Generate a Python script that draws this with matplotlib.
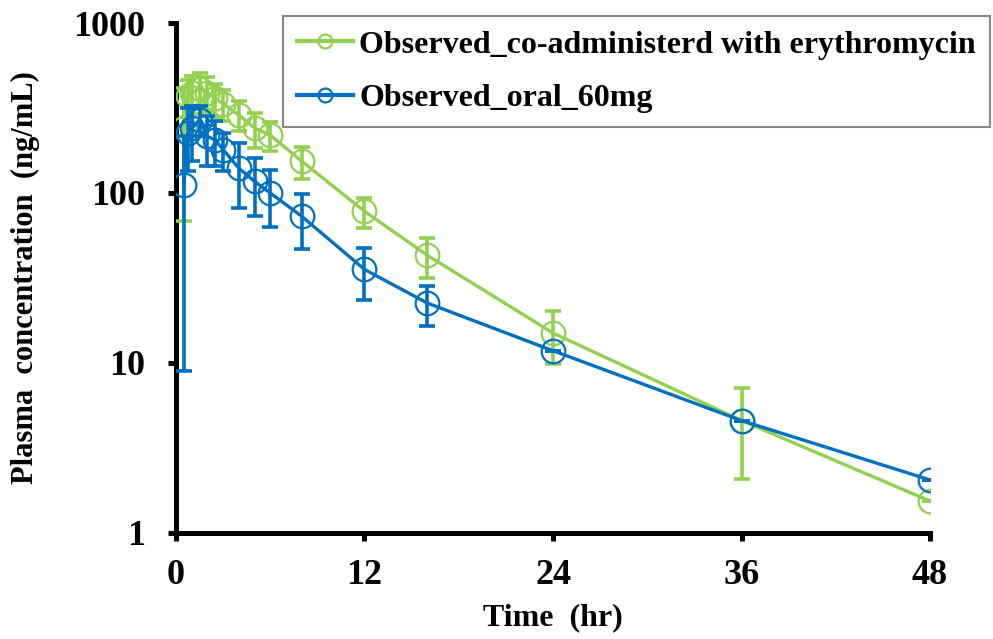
import matplotlib
matplotlib.use("Agg")
import matplotlib.pyplot as plt
from matplotlib.ticker import FixedLocator, FixedFormatter, NullLocator

# ---- data ----
time_hr = [0.5, 0.75, 1, 1.5, 2, 2.5, 3, 4, 5, 6, 8, 12, 16, 24, 36, 48]

ery_mean = [240, 370, 390, 410, 390, 360, 335, 288, 241, 219, 154, 78, 43, 15.0, 4.58, 1.54]
ery_sd   = [172, 90, 100, 95, 90, 80, 70, 58, 56, 42, 33, 16, 11.5, 5.2, 2.5, 0]

oral_mean = [112, 225, 240, 270, 215, 205, 180, 140, 117, 100, 73, 35.5, 22.5, 11.8, 4.58, 2.05]
oral_sd   = [103, 90, 85, 55, 70, 60, 45, 58, 44, 37, 26, 12, 6, 0, 0, 0]

label_ery = "Observed_co-administerd with erythromycin"
label_oral = "Observed_oral_60mg"

x_ticks = [0, 12, 24, 36, 48]
y_ticks = [1, 10, 100, 1000]
y_ticklabels = ["1", "10", "100", "1000"]

green = "#92D050"
blue = "#0070C0"

plt.rcParams['font.family'] = ['Liberation Serif', 'DejaVu Serif']
plt.rcParams['font.weight'] = 'bold'

fig = plt.figure(figsize=(9.93, 6.39), dpi=100)
ax = fig.add_axes([0.1772, 0.166, 0.7594, 0.798])

def draw(mean, sd, color, label, z):
    ax.errorbar(time_hr, mean, yerr=sd, fmt='none', ecolor=color, elinewidth=2.6,
                capsize=6, capthick=2.6, zorder=z)
    ax.plot(time_hr, mean, '-', color=color, lw=2.4, marker='o', markersize=17,
            markerfacecolor='none', markeredgecolor=color, markeredgewidth=1.6,
            label=label, zorder=z + 0.5)

draw(ery_mean, ery_sd, green, label_ery, 3)
draw(oral_mean, oral_sd, blue, label_oral, 4)

ax.set_yscale('log')
ax.set_xlim(0, 48)
ax.set_ylim(1, 1000)
ax.xaxis.set_major_locator(FixedLocator(x_ticks))
ax.yaxis.set_major_locator(FixedLocator(y_ticks))
ax.yaxis.set_major_formatter(FixedFormatter(y_ticklabels))
ax.yaxis.set_minor_locator(NullLocator())

for s in ['top', 'right']:
    ax.spines[s].set_visible(False)
for s in ['left', 'bottom']:
    ax.spines[s].set_linewidth(3.6)
ax.tick_params(axis='both', which='major', direction='out', length=6, width=3.6,
               labelsize=26)
ax.tick_params(axis='y', pad=16)
ax.tick_params(axis='x', pad=13)
for lab in ax.get_xticklabels() + ax.get_yticklabels():
    lab.set_fontweight('bold')

ax.set_xlabel("Time  (hr)", fontsize=23, fontweight='bold', labelpad=8)
ax.set_ylabel("Plasma  concentration  (ng/mL)", fontsize=22, fontweight='bold', labelpad=24)

leg = ax.legend(loc='upper right', bbox_to_anchor=(1.08, 1.014), fontsize=23,
                frameon=True, fancybox=False, edgecolor='#888888', framealpha=1,
                handlelength=1.75, handletextpad=0.2, borderpad=0.45, labelspacing=0.75,
                borderaxespad=0)
leg.get_frame().set_linewidth(1.5)
for h in leg.legend_handles:
    h.set_markersize(10)
    h.set_linewidth(3)
for t in leg.get_texts():
    t.set_fontweight('bold')
leg.set_zorder(2)

fig.savefig("out.png", dpi=100)
